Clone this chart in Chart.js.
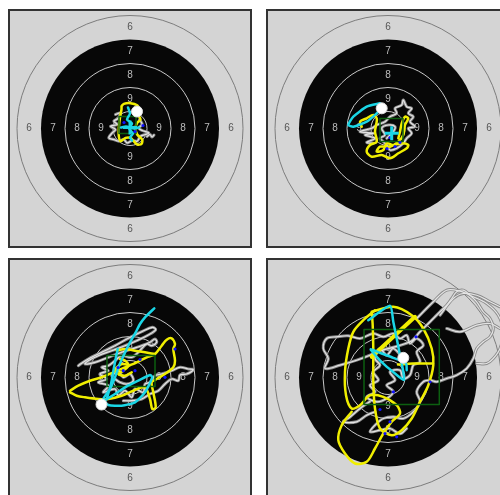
<!DOCTYPE html>
<html>
<head>
<meta charset="utf-8">
<script src="https://cdn.jsdelivr.net/npm/chart.js@4/dist/chart.umd.min.js"></script>
<style>
  html, body { margin: 0; padding: 0; background: #ffffff; overflow: hidden; }
  body { width: 500px; height: 495px; position: relative; }
  .panel {
    position: absolute; box-sizing: border-box;
    width: 244px; height: 239px;
    border: 2px solid #333333; background: #d4d4d4;
  }
  .panel canvas { display: block; }
</style>
</head>
<body>
<div class="panel" style="left:8px; top:9px;"><canvas id="c1" width="240" height="235"></canvas></div>
<div class="panel" style="left:266px; top:9px;"><canvas id="c2" width="240" height="235"></canvas></div>
<div class="panel" style="left:8px; top:258px;"><canvas id="c3" width="240" height="235"></canvas></div>
<div class="panel" style="left:266px; top:258px;"><canvas id="c4" width="240" height="235"></canvas></div>
<script>
// Target geometry (radius of each ring boundary, outermost first) and zone scores
const ringRadii = [113, 89, 65, 41, 17];
const ringScores = [6, 7, 8, 9];

// ---- Shooter 1 ----
const p1White = [
  [[-14.5,14],[-9.5,15.6],[-11.2,10.6],[-16.2,7.3],[-12.8,4],[-19.5,2.3],[-14.5,-1],[-17.8,-4.4],[-21.2,-9.4],[-16.2,-11],[-11.2,-12.7],[-6.2,-11],[-2.8,-14.4],[2.2,-12],[7.2,-12.7],[10.5,-7.7],[15.5,-6],[18.8,-4.4],[12.2,-2],[8.8,0.6],[12.2,4],[9.5,9]],
  [[17,-8],[20,-6],[22,-8.5],[24,-6.5]]
];
const p1Yellow = [
  [[-8.5,22.3],[-6.2,24.6],[0.5,25.3],[7.2,23.3],[8.2,20],[5.5,16.6],[8.8,12.3],[10.5,9],[7.2,5.6],[5.5,0.6],[7.2,-6],[12.2,-11],[11.5,-15.4],[7.2,-16],[3.8,-12.7],[0.5,-9.4],[-4.5,-9.4],[-9.5,-12.7],[-11.2,-7.7],[-11.2,0.6],[-10.5,7.3],[-9.5,14],[-8.5,19],[-8.5,22.3]]
];
const p1Cyan = [
  [[-2,21],[0,15],[-3,9],[2,5],[-1,0],[3,-5],[0,-9],[2,-12]],
  [[-9,1],[-4,2],[4,0],[9,1]]
];
const p1Box = [-11, -5, 6, 12];
const p1Blue = [[-6,6],[5,-3],[13,3]];
const p1Shot = [7, 17];
const p1Aim = [0, 1];

// ---- Shooter 2 ----
const p2White = [
  [[-14.7,-14.8],[-21.3,-13.8],[-13,-9.8],[-23,-6.5],[-14.7,-4.8],[-28,-3.2],[-16.3,0.2],[-11.3,3.5],[-3,6.8],[2,11.8],[8.7,15.2],[7,20.2],[13.7,23.5],[15.3,28.5],[18.7,21.8],[23.7,20.2],[20.3,15.2],[25.3,11.8],[22,6.8],[27,1.8],[20.3,0.2],[23.7,-4.8],[18.7,-9.8],[15.3,-14.8],[8.7,-19.8],[2,-21.5],[-1.3,-16.5],[-4.7,-13.2],[-8,-9.8],[-3,-6.5],[-6.3,0.2],[0.3,3.5],[7,1.8],[5.3,-3.2],[-1.3,-9.8]]
];
const p2Yellow = [
  [[-26.3,1.8],[-28,6.8],[-21.3,10.2],[-14.7,13.5],[-11.3,10.2],[-11.3,6.8],[-13,-3.2],[-11.3,-13.2],[-18,-16.5],[-21.3,-23.2],[-16.3,-28.2],[-6.3,-26.5],[2,-29.8],[10.3,-24.8],[18.7,-19.8],[20.3,-16.5],[13.7,-14.8],[5.3,-16.5],[-1.3,-14.8],[-4.7,-21.5],[-11.3,-23.2],[-8,-18.2],[2,-18.2],[10.3,-13.2],[15.3,-6.5],[17,3.5],[20.3,10.2],[17,11.8],[13.7,5.2],[12,-3.2],[10.3,-9.8]]
];
const p2Cyan = [
  [[-8,25.2],[-21.3,21.8],[-34.7,11.8],[-39.7,3.5],[-34.7,1.8],[-21.3,6.8],[-11.3,15.2],[-5.3,21.8],[-8,25.2]]
];
const p2Box = [-8, -13, 15, 10];
const p2Blue = [[7,-18],[12,-14],[-1,-20],[2,-9]];
const p2Shot = [-6.3, 20.2];
const p2Aim = [3.7, -4.8];

// ---- Shooter 3 ----
const p3White = [
  [[-51.7,11.8],[-41.7,18.5],[-28.3,25.2],[-15,31.8],[-1.7,39.2],[11.7,45.8],[22.3,50.2],[25.7,47.8],[18.3,42.5],[6.7,36.8],[-5,31.8],[-18.3,26.8],[-31.7,21.8],[-41.7,16.8],[-45,13.5],[-35,15.2],[-21.7,20.2],[-8.3,25.2],[1.7,28.5],[11.7,31.8],[20,35.2],[25,38.5],[26.7,35.2],[21.7,31.8],[16.7,33.5],[8.3,25.2],[1.7,20.2],[-8.3,21.8],[-15,16.8],[-21.7,11.8],[-28.3,10.2],[-21.7,6.8],[-30,3.5],[-23.3,-1.5],[-31.7,-4.8],[-21.7,-8.2],[-26.7,-14.8],[-15,-11.5],[-11.7,-18.2],[-5,-13.2],[1.7,-19.8],[5,-11.5],[13.3,-14.8],[15,-6.5],[20,-4.8],[25,1.8],[31.7,3.5],[41.7,6.8],[50,10.2],[58.3,8.5],[63.3,7.8],[56.7,3.5],[50,2.5],[48.3,-3.2],[41.7,-1.5],[35,-6.5],[28.3,-13.2],[20,-16.5],[11.7,-21.5],[1.7,-23.2],[-6.7,-23.2]],
  [[-18.3,1.8],[-11.7,6.8],[-6.7,0.2],[0,3.5],[3.3,-3.2],[-3.3,-6.5],[-10,-4.8],[-15,-1.5]]
];
const p3Yellow = [
  [[-60,-13.2],[-51.7,-8.2],[-40,-3.2],[-28.3,0.2],[-16.7,5.2],[-5,10.2],[6.7,15.2],[16.7,20.2],[25,23.5],[31.7,31.8],[36.7,37.8],[41.7,39.2],[45,33.5],[43.3,28.5],[45,16.8],[43.3,10.2],[35,3.5],[26.7,-1.5],[21.7,-4.8],[23.3,-14.8],[25.7,-29.8],[22.3,-31.5],[20,-21.5],[15,-9.8],[3.3,-13.2],[-8.3,-18.2],[-21.7,-21.5],[-31.7,-21.5],[-45,-19.8],[-53.3,-18.2],[-60,-14.8]],
  [[-15,8.5],[-8.3,13.5],[-1.7,11.8],[-6.7,6.8],[-11.7,3.5],[-5,1.8],[1.7,5.2]],
  [[-13.3,26.8],[-5,28.5],[5,26.8],[15,25.2],[25,23.5]],
  [[-10,18.5],[-5,17],[-1.7,13.5]]
];
const p3Cyan = [
  [[24.3,69.2],[15,60.2],[10,53.5],[5.7,45.2],[0,35.2],[-5.7,23.5],[-11,11.8],[-15,0.2],[-20,-11.5],[-26.7,-21.5],[-21.7,-27.5],[-8.3,-28.2],[5,-24.8],[15,-14.8],[22.3,0.2],[20,2.5],[8.3,-3.2],[-3.3,-8.8],[-15,-16.5],[-25.7,-23.2]],
  [[-12.3,28.5],[-15.7,11.8],[-19,-6.5],[-23.3,-21.5]]
];
const p3Box = [-23, -9, 25, 22];
const p3Blue = [[45,28.5],[35,0.2],[-6.7,6.8],[5,6.8],[-12,10],[10,18]];
const p3Shot = [-28.5, -27];
const p3Aim = null;

// ---- Shooter 4 ----
const p4White = [
  [[15.3,19],[5.3,29],[-1.3,22.3],[-8,29],[-13,19],[-8,12.3],[-14.7,5.7],[-9.7,-2.7],[-18,-7.7],[-13,-14.3],[-21.3,-19.3],[-11.3,-24.3],[-1.3,-21],[5.3,-14.3],[-1.3,-7.7],[7,-2.7],[2,5.7],[12,7.3],[15.3,-1],[22,2.3],[25.3,12.3],[32,15.7],[28.7,25.7],[35.3,32.3],[28.7,39],[22,34],[18.7,42.3],[12,39],[5.3,44],[-4.7,40.7],[-14.7,44],[-28,39],[-39.7,41.7],[-51.3,40.7],[-61.3,39],[-64.7,29],[-59.7,19],[-63,9],[-48,12.3],[-31.3,17.3],[-18,22.3],[-11.3,25.7],[22,35.7],[32,45.7],[38.7,52.3],[45.3,59],[52,65.7],[58.7,72.3],[63.7,79],[68.7,85.7],[75.3,87.3],[82,82.3],[88.7,75.7],[95.3,65.7],[102,59],[105.3,49],[102,40.7],[95.3,35.7],[88.7,29],[85.3,19],[78.7,9],[68.7,2.3],[58.7,-1],[48.7,-4.3],[42,-2.7],[35.3,-4.3],[28.7,-14.3],[32,-24.3],[25.3,-34.3],[15.3,-41],[5.3,-39.3],[-4.7,-41],[-13,-47.7],[-18,-54.3],[-8,-52.7],[2,-51],[12,-56.3],[18.7,-51]],
  [[-18,-24],[-28,-31],[-38,-39.5],[-44.7,-44.3],[-31.3,-44.3],[-21.3,-37.7],[-13,-34.3]],
  [[28.7,59],[45.3,75.7],[58.7,87.3],[72,86.3],[85.3,80.7],[98.7,74],[110.3,62.3],[115.3,45.7],[112,29],[105.3,19],[98.7,14],[88.7,14]],
  [[52,62.3],[65.3,79],[75.3,84],[88.7,82.3],[102,75.7],[112,70.7]],
  [[58.7,49],[72,45.7],[88.7,52.3],[102,54],[112,49]]
];
const p4Yellow = [
  [[-13,67.3],[-24.7,57.3],[-34.7,45.7],[-39.7,29],[-43,5.7],[-42,-17.7],[-36.3,-31],[-28,-27.7],[-18,-17.7],[-4.7,-19.3],[8.7,-27.7],[12,-36],[3.7,-44.3],[-4.7,-56],[-13,-71],[-21.3,-84.3],[-33,-86],[-43,-76],[-49.7,-62.7],[-46.3,-47.7],[-36.3,-34.3]],
  [[-16.3,65.7],[5.3,70.7],[23.7,62.3],[35.3,49],[43.7,29],[45.3,12.3],[40.3,-7.7],[32,-24.3],[23.7,-41],[13.7,-52.7],[3.7,-57.7],[-8,-51],[-13,-31],[-14.7,-4.3],[-14.7,28],[-15.3,52.3],[-16.3,65.7]],
  [[-16.3,20.7],[27,60.7]],
  [[10,13],[25,14],[45,14]]
];
const p4Cyan = [
  [[-19.7,57.3],[2,71.7],[5.3,55.7],[8.7,39],[12,22.3],[14.7,9],[16,-2.7],[7,4],[-3,12.3],[-11.3,20.7],[-17.3,28.3],[-6.3,24],[5.3,19.7],[18,14],[18.7,7.3]]
];
const p4Box = [-24, -27, 51.3, 48];
const p4Blue = [[28,40.7],[42,-4.3],[5.3,-14.3],[2,-44.3],[-3,-56],[8.7,-59.3],[-8,-32]];
const p4Shot = [15.3, 19.7];
const p4Aim = null;

// Draws the scoring rings, black aiming area and zone numbers under the traces
const targetPlugin = {
  id: 'target',
  beforeDatasetsDraw(chart) {
    const { ctx, scales: { x, y } } = chart;
    const cx = x.getPixelForValue(0), cy = y.getPixelForValue(0);
    const px = r => x.getPixelForValue(r) - cx;
    ctx.save();
    ctx.lineWidth = 1;
    ctx.strokeStyle = '#7c7c7c';
    ctx.beginPath(); ctx.arc(cx, cy, px(ringRadii[0]), 0, Math.PI * 2); ctx.stroke();
    ctx.fillStyle = '#070707';
    ctx.beginPath(); ctx.arc(cx, cy, px(ringRadii[1]), 0, Math.PI * 2); ctx.fill();
    ctx.strokeStyle = '#c8c8c8';
    for (let i = 2; i < ringRadii.length; i++) {
      ctx.beginPath(); ctx.arc(cx, cy, px(ringRadii[i]), 0, Math.PI * 2); ctx.stroke();
    }
    ctx.font = '10px "Liberation Sans", Arial, sans-serif';
    ctx.textAlign = 'center';
    ctx.textBaseline = 'middle';
    ringScores.forEach((s, i) => {
      const r = px((ringRadii[i] + ringRadii[i + 1]) / 2);
      ctx.fillStyle = i === 0 ? '#555555' : '#bdbdbd';
      const t = String(s);
      ctx.fillText(t, cx, cy - r);
      ctx.fillText(t, cx, cy + r);
      ctx.fillText(t, cx - r, cy);
      ctx.fillText(t, cx + r, cy);
    });
    ctx.restore();
  }
};

const pts = arr => arr.map(p => ({ x: p[0], y: p[1] }));
const lineSet = (path, color, width, tension, order) => ({
  data: pts(path), showLine: true, borderColor: color, borderWidth: width,
  pointRadius: 0, tension: tension, fill: false, order: order,
  borderCapStyle: 'round', borderJoinStyle: 'round'
});

function drawPanel(id, d) {
  const datasets = [];
  // aiming trace: grey edge under a light core
  d.white.forEach(p => {
    datasets.push(lineSet(p, '#8a8a8a', 3, 0.35, 20));
    datasets.push(lineSet(p, '#e4e4e4', 1.2, 0.35, 19));
  });
  d.yellow.forEach(p => datasets.push(lineSet(p, '#f0ee00', p.length === 2 ? 4 : 2.5, 0.3, 15)));
  const b = d.box;
  datasets.push(lineSet([[b[0], b[1]], [b[2], b[1]], [b[2], b[3]], [b[0], b[3]], [b[0], b[1]]], '#0c5f10', 1.5, 0, 14));
  d.cyan.forEach(p => datasets.push(lineSet(p, '#1ad6e6', 2.5, 0.2, 12)));
  datasets.push({ data: pts(d.blue), pointRadius: 1.6, pointBackgroundColor: '#1010ff', pointBorderWidth: 0, order: 11 });
  datasets.push({ data: pts([d.shot]), pointRadius: 5.5, pointBackgroundColor: '#ffffff', pointBorderColor: '#e0e0e0', pointBorderWidth: 1, order: 10 });
  if (d.aim) {
    datasets.push({ data: pts([d.aim]), pointStyle: 'cross', pointRadius: 7, pointBorderColor: '#1ad6e6', pointBorderWidth: 3, order: 9 });
  }
  new Chart(document.getElementById(id), {
    type: 'scatter',
    data: { datasets },
    options: {
      responsive: false, animation: false, events: [],
      layout: { padding: 0, autoPadding: false },
      plugins: { legend: { display: false }, tooltip: { enabled: false } },
      scales: {
        x: { type: 'linear', min: -120, max: 120, display: false },
        y: { type: 'linear', min: -117.5, max: 117.5, display: false }
      }
    },
    plugins: [targetPlugin]
  });
}

drawPanel('c1', { white: p1White, yellow: p1Yellow, cyan: p1Cyan, box: p1Box, blue: p1Blue, shot: p1Shot, aim: p1Aim });
drawPanel('c2', { white: p2White, yellow: p2Yellow, cyan: p2Cyan, box: p2Box, blue: p2Blue, shot: p2Shot, aim: p2Aim });
drawPanel('c3', { white: p3White, yellow: p3Yellow, cyan: p3Cyan, box: p3Box, blue: p3Blue, shot: p3Shot, aim: p3Aim });
drawPanel('c4', { white: p4White, yellow: p4Yellow, cyan: p4Cyan, box: p4Box, blue: p4Blue, shot: p4Shot, aim: p4Aim });
</script>
</body>
</html>
